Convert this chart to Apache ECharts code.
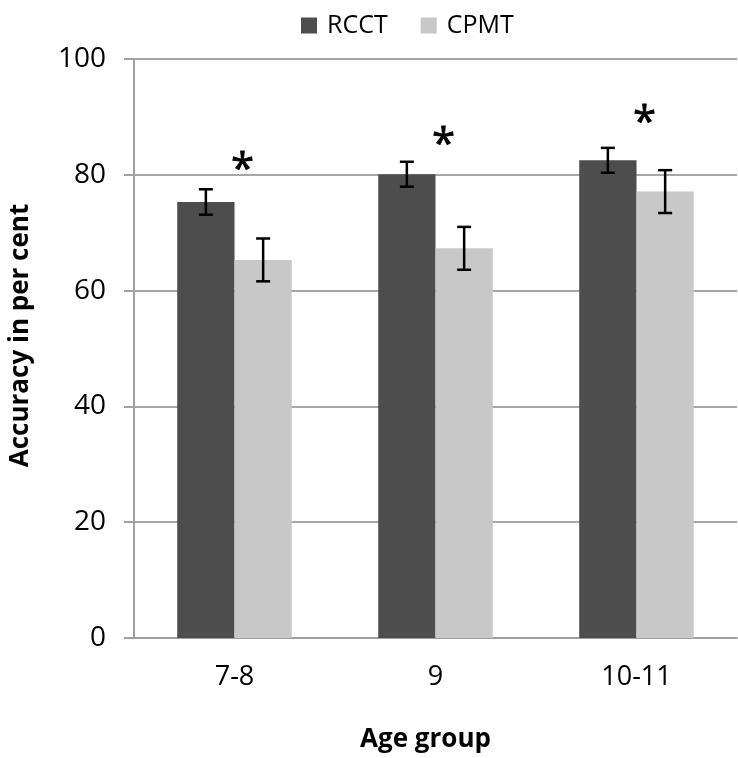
<!DOCTYPE html>
<html>
<head>
<meta charset="utf-8">
<script src="https://cdn.jsdelivr.net/npm/echarts@6/dist/echarts.min.js"></script>
<style>html,body{margin:0;padding:0;background:#fff;}#chart{width:738px;height:758px;}</style>
</head>
<body>
<div id="chart"></div>
<script>
const categories = ['7-8', '9', '10-11'];
const rcct = [75.3, 80.1, 82.5];
const cpmt = [65.3, 67.3, 77.1];
const rcctErr = [2.2, 2.15, 2.15];
const cpmtErr = [3.7, 3.7, 3.7];
const starLevel = [82.7, 87.0, 90.8];
const yTicks = [0, 20, 40, 60, 80, 100];

const FONT = 'Open Sans';
const chart = echarts.init(document.getElementById('chart'));

function errSeries(name, vals, errs, dir) {
  return {
    type: 'custom',
    name: name + ' err',
    z: 10,
    data: vals.map((v, i) => [i, v - errs[i], v + errs[i]]),
    renderItem: function (params, api) {
      const lo = api.coord([api.value(0), api.value(1)]);
      const hi = api.coord([api.value(0), api.value(2)]);
      const band = api.size([1, 0])[0];
      const bw = band * (1 - 0.43) / 2;
      const x = lo[0] + dir * bw / 2;
      const cw = 7;
      const st = { stroke: '#000', lineWidth: 2.5 };
      return {
        type: 'group',
        children: [
          { type: 'line', shape: { x1: x, y1: lo[1], x2: x, y2: hi[1] }, style: st },
          { type: 'line', shape: { x1: x - cw, y1: lo[1], x2: x + cw, y2: lo[1] }, style: st },
          { type: 'line', shape: { x1: x - cw, y1: hi[1], x2: x + cw, y2: hi[1] }, style: st }
        ]
      };
    }
  };
}

const option = {
  animation: false,
  backgroundColor: '#fff',
  legend: {
    left: 296,
    top: 8,
    icon: 'rect',
    itemWidth: 16,
    itemHeight: 16,
    itemGap: 33,
    data: ['RCCT', 'CPMT'],
    textStyle: { fontFamily: FONT, fontSize: 25, color: '#000', padding: [0, 0, 0, 5] }
  },
  grid: { left: 133, right: 1, top: 59, bottom: 115, containLabel: false },
  xAxis: {
    type: 'category',
    data: categories,
    name: 'Age group',
    nameLocation: 'middle',
    nameGap: 89,
    nameTextStyle: { fontFamily: FONT, fontSize: 26, fontWeight: 'bold', color: '#000', padding: [0, 20, 0, 0] },
    axisLine: { lineStyle: { color: '#a0a0a0', width: 2 } },
    axisTick: { show: false },
    axisLabel: { fontFamily: FONT, fontSize: 27, color: '#000', margin: 26 }
  },
  yAxis: {
    type: 'value',
    min: 0,
    max: 100,
    interval: 20,
    name: 'Accuracy in per cent',
    nameLocation: 'middle',
    nameGap: 100,
    nameTextStyle: { fontFamily: FONT, fontSize: 26, fontWeight: 'bold', color: '#000', padding: [0, 0, 0, 26] },
    axisLine: { show: true, lineStyle: { color: '#a0a0a0', width: 2 } },
    axisTick: { show: true, length: 10, lineStyle: { color: '#a0a0a0', width: 2 } },
    splitLine: { show: true, lineStyle: { color: '#a6a6a6', width: 2 } },
    axisLabel: {
      fontFamily: FONT, fontSize: 28, color: '#000', margin: 28,
      formatter: v => yTicks.includes(v) ? String(v) : ''
    }
  },
  series: [
    { name: 'RCCT', type: 'bar', data: rcct, barGap: '0%', barCategoryGap: '43%', itemStyle: { color: '#4d4d4d' } },
    { name: 'CPMT', type: 'bar', data: cpmt, barGap: '0%', barCategoryGap: '43%', itemStyle: { color: '#c8c8c8' } },
    errSeries('RCCT', rcct, rcctErr, -1),
    errSeries('CPMT', cpmt, cpmtErr, 1),
    {
      type: 'custom',
      name: 'sig',
      z: 11,
      data: starLevel.map((v, i) => [i, v]),
      renderItem: function (params, api) {
        const p = api.coord([api.value(0), api.value(1)]);
        return {
          type: 'text',
          x: p[0] + 8,
          y: p[1] + 12,
          style: { text: '*', fontFamily: FONT, fontSize: 42, fill: '#000', stroke: '#000', lineWidth: 0.8, align: 'center', verticalAlign: 'middle' }
        };
      }
    }
  ]
};
chart.setOption(option);
</script>
</body>
</html>
